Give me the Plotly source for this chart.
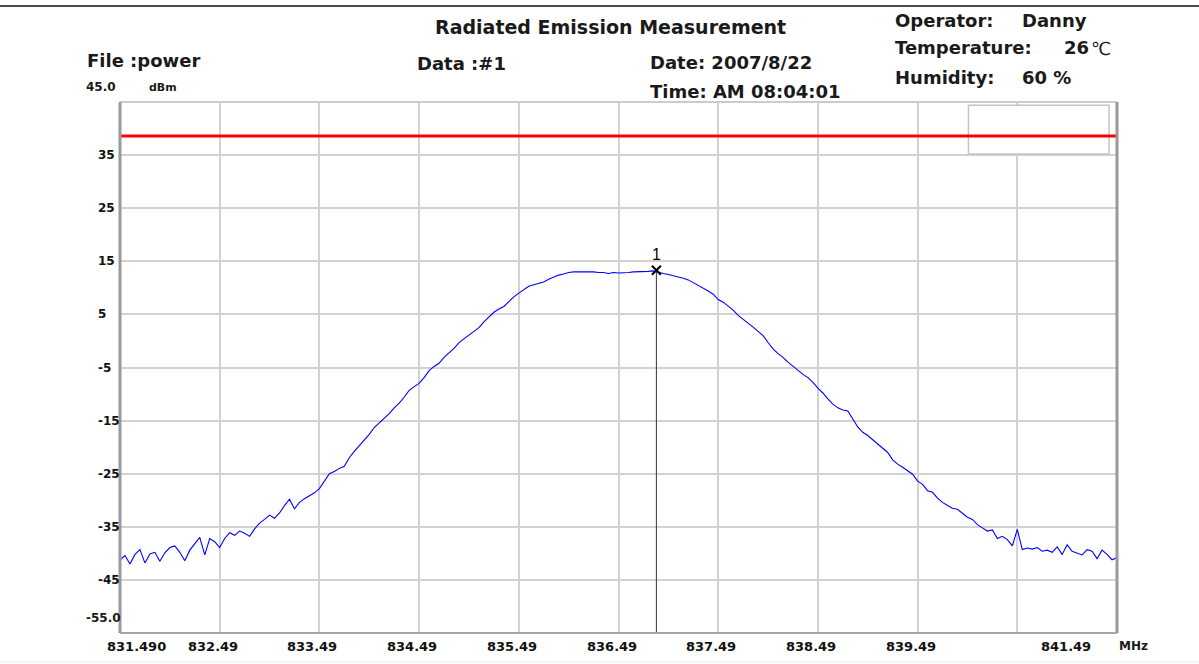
import numpy as np
import plotly.graph_objects as go

# ---- sweep / data -------------------------------------------------------
FREQ_START = 831.49   # MHz
FREQ_STOP = 841.49    # MHz

# measured level (dBm), one value per sweep point
LEVEL_DBM = [
    -41.2, -40.4, -42.0, -40.2, -39.3, -41.8, -40.1, -39.8, -41.5, -39.9,
    -38.9, -38.6, -39.8, -41.4, -39.4, -38.3, -37.0, -40.3, -37.2, -37.8,
    -38.9, -37.2, -36.1, -36.6, -35.8, -36.2, -36.8, -35.4, -34.3, -33.6,
    -32.8, -33.4, -32.4, -31.0, -29.8, -31.6, -30.4, -29.7, -29.2, -28.6,
    -27.8, -26.5, -25.0, -24.6, -24.0, -23.6, -22.0, -20.8, -19.8, -18.6,
    -17.6, -16.3, -15.4, -14.5, -13.7, -12.6, -11.7, -10.6, -9.3, -8.6,
    -8.0, -6.9, -5.6, -4.8, -4.2, -3.1, -2.2, -1.4, -0.3, 0.4,
    1.1, 1.9, 2.5, 3.6, 4.6, 5.4, 6.0, 6.5, 7.4, 8.3,
    9.0, 9.6, 10.3, 10.6, 10.8, 11.1, 11.6, 12.0, 12.4, 12.6,
    12.9, 13.0, 13.0, 13.1, 13.0, 13.0, 12.9, 12.9, 12.7, 12.9,
    12.8, 12.8, 12.9, 13.0, 13.0, 13.0, 13.1, 13.2, 12.9, 12.7,
    12.5, 12.3, 12.0, 11.8, 11.5, 11.0, 10.5, 10.0, 9.4, 8.8,
    7.8, 7.3, 6.6, 5.8, 4.8, 4.1, 3.4, 2.6, 1.8, 1.0,
    -0.3, -1.5, -2.4, -3.1, -4.0, -4.8, -5.6, -6.3, -6.9, -7.8,
    -8.9, -9.8, -10.9, -11.9, -12.6, -13.0, -13.2, -14.8, -16.2, -17.2,
    -17.8, -18.6, -19.4, -20.2, -21.0, -22.4, -23.2, -23.8, -24.5, -25.1,
    -26.4, -27.0, -28.2, -28.5, -29.6, -30.4, -31.0, -31.5, -31.7, -32.4,
    -33.2, -33.6, -34.6, -35.2, -35.8, -35.6, -37.2, -36.8, -37.4, -38.6,
    -35.5, -39.3, -39.0, -39.2, -38.9, -39.6, -39.4, -39.8, -38.8, -40.2,
    -38.4, -39.6, -39.9, -40.3, -39.3, -39.6, -41.0, -39.4, -40.2, -41.2,
    -40.8,
]

LIMIT_DBM = 38.6
MARKER_FREQ = 836.87
MARKER_LEVEL = 13.3
MARKER_LABEL = "1"

X_TICKS = [831.49, 832.49, 833.49, 834.49, 835.49, 836.49, 837.49, 838.49, 839.49, 841.49]
X_TICK_TEXT = ["831.490", "832.49", "833.49", "834.49", "835.49", "836.49",
               "837.49", "838.49", "839.49", "841.49"]
Y_TICKS = [35, 25, 15, 5, -5, -15, -25, -35, -45]
Y_TOP_TEXT = "45.0"
Y_BOTTOM_TEXT = "-55.0"
Y_MIN, Y_MAX = -55, 45

freq = np.linspace(FREQ_START, FREQ_STOP, len(LEVEL_DBM))

# ---- page geometry -------------------------------------------------------
PAGE_W, PAGE_H = 1199, 664
L, R, T, B = 120, 82, 102, 31
PW, PH = PAGE_W - L - R, PAGE_H - T - B


def pxx(px):
    return (px - L) / PW


def pxy(py):
    return (PAGE_H - B - py) / PH


GRID = "#d2d2d2"
FRAME = "#a6a6a6"
HEAD_FONT = "DejaVu Sans"
TICK_FONT = "DejaVu Sans"

fig = go.Figure()

fig.add_trace(go.Scatter(
    x=freq, y=LEVEL_DBM, mode="lines",
    line=dict(color="#0000ff", width=1.1),
    hoverinfo="skip", showlegend=False,
))

# marker stem and marker symbol
fig.add_trace(go.Scatter(
    x=[MARKER_FREQ, MARKER_FREQ], y=[MARKER_LEVEL, Y_MIN], mode="lines",
    line=dict(color="#333333", width=1), hoverinfo="skip", showlegend=False,
))
fig.add_trace(go.Scatter(
    x=[MARKER_FREQ], y=[MARKER_LEVEL], mode="markers+text",
    marker=dict(symbol="x-thin", size=9, line=dict(color="#000000", width=2)),
    text=[MARKER_LABEL], textposition="top center",
    textfont=dict(family="Liberation Sans", size=16, color="#000000"),
    hoverinfo="skip", showlegend=False,
))

shapes = []
# display box in the upper right corner
shapes.append(dict(type="rect", xref="x", yref="y", x0=840.0, x1=841.41, y0=35.2, y1=44.4,
                   line=dict(color="#c4c4c4", width=1.5), fillcolor="#ffffff", layer="above"))
# limit line
shapes.append(dict(type="line", xref="x", yref="y", x0=FREQ_START, x1=FREQ_STOP,
                   y0=LIMIT_DBM, y1=LIMIT_DBM, line=dict(color="#ff0000", width=3), layer="above"))
# plot frame
shapes.append(dict(type="line", xref="paper", yref="paper", x0=0, x1=1, y0=1, y1=1,
                   line=dict(color="#cccccc", width=2), layer="above"))
shapes.append(dict(type="line", xref="paper", yref="paper", x0=0, x1=1, y0=0, y1=0,
                   line=dict(color=FRAME, width=2), layer="above"))
shapes.append(dict(type="line", xref="paper", yref="paper", x0=0, x1=0, y0=0, y1=1,
                   line=dict(color="#999999", width=3), layer="above"))
shapes.append(dict(type="line", xref="paper", yref="paper", x0=1, x1=1, y0=0, y1=1,
                   line=dict(color="#999999", width=3), layer="above"))
# page rules
shapes.append(dict(type="line", xref="paper", yref="paper", x0=pxx(0), x1=pxx(PAGE_W),
                   y0=pxy(6), y1=pxy(6), line=dict(color="#4a4a4a", width=2)))
shapes.append(dict(type="line", xref="paper", yref="paper", x0=pxx(0), x1=pxx(PAGE_W),
                   y0=pxy(662), y1=pxy(662), line=dict(color="#ececec", width=1)))

ann = []


def text(s, px, py, size=18, bold=True, anchor="left", family=HEAD_FONT):
    ann.append(dict(text=s, x=pxx(px), y=pxy(py), xref="paper", yref="paper",
                    xanchor=anchor, yanchor="middle", showarrow=False,
                    font=dict(family=family, size=size, color="#1a1a1a",
                              weight=700 if bold else 400)))


# header block
text("Radiated Emission Measurement", 433, 27, size=19)
text("File :power", 85, 60)
text("Data :#1", 415, 64)
text("Date: 2007/8/22", 648, 63)
text("Time: AM 08:04:01", 648, 91)
text("Operator:", 893, 21)
text("Danny", 1020, 21)
text("Temperature:", 893, 47)
text("26", 1062, 47)
text("℃", 1089, 48, bold=False)
text("Humidity:", 893, 78)
text("60 %", 1020, 78)

# y axis labels
text(Y_TOP_TEXT, 84, 87, size=12, family=TICK_FONT)
text("dBm", 147, 88, size=11, family=TICK_FONT)
for v in Y_TICKS:
    ann.append(dict(text=str(v), x=pxx(96), y=v, xref="paper", yref="y",
                    xanchor="left", yanchor="middle", showarrow=False,
                    font=dict(family=TICK_FONT, size=12, color="#111111", weight=700)))
text(Y_BOTTOM_TEXT, 84, 618, size=12, family=TICK_FONT)

# x axis labels
for i, (v, s) in enumerate(zip(X_TICKS, X_TICK_TEXT)):
    if i == 0:
        xa, shift = "left", -15
    elif i == len(X_TICKS) - 1:
        xa, shift = "right", -24
    else:
        xa, shift = "center", -7
    ann.append(dict(text=s, x=v, y=pxy(646), xref="x", yref="paper",
                    xanchor=xa, yanchor="middle", xshift=shift, showarrow=False,
                    font=dict(family=TICK_FONT, size=13, color="#111111", weight=700)))
text("MHz", 1117, 646, size=12, family=TICK_FONT)

fig.update_layout(
    width=PAGE_W, height=PAGE_H,
    margin=dict(l=L, r=R, t=T, b=B, pad=0),
    paper_bgcolor="#ffffff", plot_bgcolor="#ffffff",
    xaxis=dict(range=[FREQ_START, FREQ_STOP], tick0=FREQ_START, dtick=1,
               showgrid=True, gridcolor=GRID, gridwidth=2, zeroline=False,
               showticklabels=False, ticks="", showline=False, fixedrange=True),
    yaxis=dict(range=[Y_MIN, Y_MAX], tick0=Y_MIN, dtick=10,
               showgrid=True, gridcolor=GRID, gridwidth=2, zeroline=False,
               showticklabels=False, ticks="", showline=False, fixedrange=True),
    shapes=shapes, annotations=ann, showlegend=False,
)

fig.write_html("out.html")
